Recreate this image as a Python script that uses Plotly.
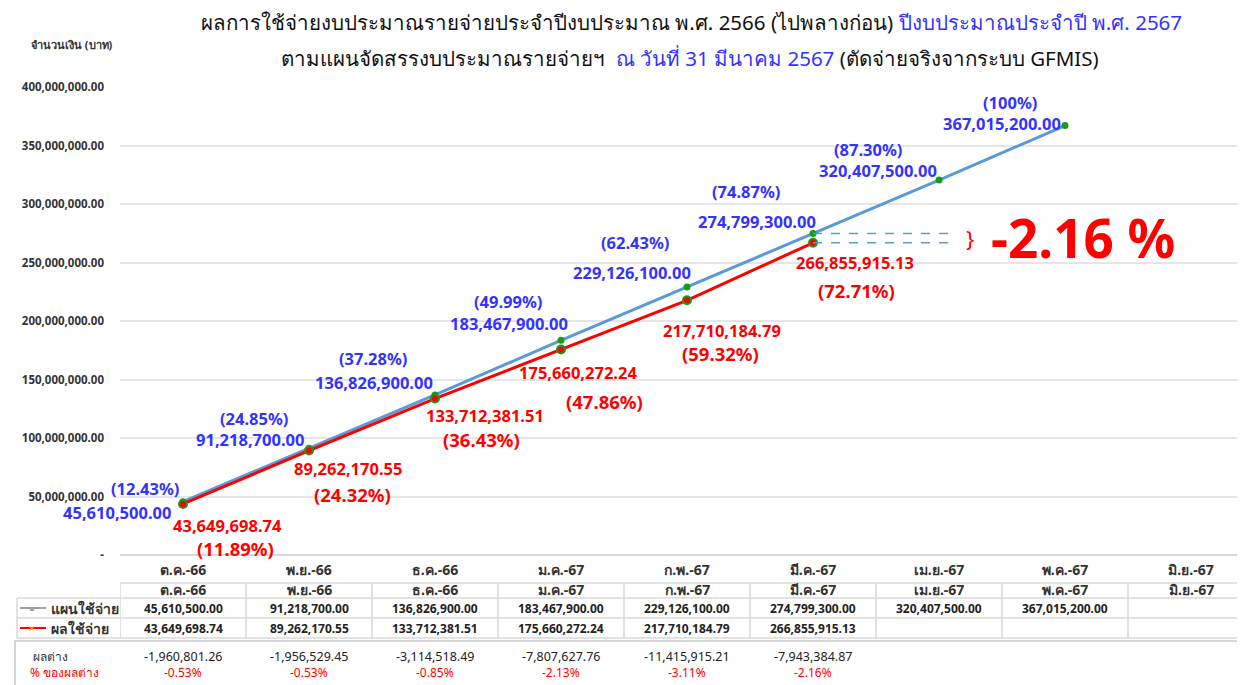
import plotly.graph_objects as go

# data
months = ["ต.ค.-66", "พ.ย.-66", "ธ.ค.-66", "ม.ค.-67", "ก.พ.-67",
          "มี.ค.-67", "เม.ย.-67", "พ.ค.-67", "มิ.ย.-67"]
plan = [45610500.00, 91218700.00, 136826900.00, 183467900.00, 229126100.00,
        274799300.00, 320407500.00, 367015200.00]
actual = [43649698.74, 89262170.55, 133712381.51, 175660272.24,
          217710184.79, 266855915.13]
plan_pct = ["12.43", "24.85", "37.28", "49.99", "62.43", "74.87", "87.30", "100"]
actual_pct = ["11.89", "24.32", "36.43", "47.86", "59.32", "72.71"]
diff = [-1960801.26, -1956529.45, -3114518.49, -7807627.76, -11415915.21,
        -7943384.87]
diff_pct = ["-0.53", "-0.53", "-0.85", "-2.13", "-3.11", "-2.16"]
summary_pct = "-2.16"
y_ticks = [0, 50e6, 100e6, 150e6, 200e6, 250e6, 300e6, 350e6, 400e6]

# page body has an 8px margin, so the figure is drawn 8px smaller
OFF = 8
W, H = 1245 - OFF, 685 - OFF
PL, PT, PR, PB = 120, 87, 1245, 555   # plot box in screen pixels
BLUE = "#3333ff"
RED = "#ff0000"
DARK = "#333333"
FONT = "Noto Sans, sans-serif"


def py(p):  # screen row -> paper y
    return (PB - p) / (PB - PT)


def pxp(p):  # screen col -> paper x
    return (p - PL) / (PR - PL)


fig = go.Figure()
fig.add_trace(go.Scatter(x=months[:len(plan)], y=plan, mode="lines+markers",
                         line=dict(color="#5b9bd5", width=3),
                         marker=dict(color="#1a9a1a", size=7)))
fig.add_trace(go.Scatter(x=months[:len(actual)], y=actual, mode="lines+markers",
                         line=dict(color=RED, width=3),
                         marker=dict(color=RED, size=8,
                                     line=dict(color="#1a9a1a", width=2))))

ann = []


def label(x, y, text, dx, dy, size, color, bold=True, **kw):
    f = dict(size=size, color=color, family=FONT)
    if bold:
        f["weight"] = "bold"
    d = dict(x=x, y=y, text=text, showarrow=False, xshift=dx, yshift=dy,
             xanchor="center", yanchor="middle", font=f)
    d.update(kw)
    ann.append(d)


# label offsets (pixels) for each point
pb_num = [(-66, -11), (-59, 9), (-61, 12), (-52, 17), (-55, 14), (-56, 12), (-61, 10), (-63, 2)]
pb_pct = [(-38, 13), (-55, 30), (-62, 36), (-53, 39), (-52, 44), (-67, 42), (-71, 31), (-55, 23)]
pr_num = [(44, -22), (39, -18), (50, -17), (17, -23), (35, -30), (42, -20)]
pr_pct = [(52, -45), (43, -44), (46, -41), (43, -52), (33, -53), (43, -48)]
for i, v in enumerate(plan):
    label(months[i], v, f"{v:,.2f}", *pb_num[i], 16.5, BLUE)
    label(months[i], v, f"({plan_pct[i]}%)", *pb_pct[i], 16.5, BLUE)
for i, v in enumerate(actual):
    label(months[i], v, f"{v:,.2f}", *pr_num[i], 16.5, RED)
    label(months[i], v, f"({actual_pct[i]}%)", *pr_pct[i], 18.5, RED)

# gap marker at the last actual month
k = len(actual) - 1
x_end = (955 - PL) / 126 - 0.5
shapes = []
for v in (plan[k], actual[k]):
    shapes.append(dict(type="line", xref="x", yref="y", x0=k, x1=x_end, y0=v, y1=v,
                       line=dict(color="#5b9bd5", width=1.5, dash="dash")))
mid = (plan[k] + actual[k]) / 2
label(x_end, mid, "}", 15, 0, 22, RED, bold=False)
label(x_end, mid, f"{summary_pct} %", 34, 1, 53, RED, xanchor="left")

# title and axis caption
label(pxp(691), py(22), "ผลการใช้จ่ายงบประมาณรายจ่ายประจำปีงบประมาณ พ.ศ. 2566 (ไปพลางก่อน) "
      f"<span style='color:{BLUE}'>ปีงบประมาณประจำปี พ.ศ. 2567</span>",
      0, 0, 20.5, "#111111", bold=False, xref="paper", yref="paper")
label(pxp(690), py(58), "ตามแผนจัดสรรงบประมาณรายจ่ายฯ  "
      f"<span style='color:{BLUE}'>ณ วันที่ 31 มีนาคม 2567</span>"
      " (ตัดจ่ายจริงจากระบบ GFMIS)",
      0, 0, 20.5, "#111111", bold=False, xref="paper", yref="paper")
label(pxp(72), py(44), "จำนวนเงิน (บาท)", 0, 0, 11, DARK,
      xref="paper", yref="paper")

# data table under the chart
for m in months:
    label(m, py(589), m, 0, 0, 14, DARK, yref="paper")
for i, v in enumerate(plan):
    label(months[i], py(608), f"{v:,.2f}", 0, 0, 12, "#222222", yref="paper")
for i, v in enumerate(actual):
    label(months[i], py(628), f"{v:,.2f}", 0, 0, 12, "#222222", yref="paper")
for i, v in enumerate(diff):
    label(months[i], py(656), f"{v:,.2f}", 0, 0, 12.5, "#222222", bold=False,
          yref="paper")
    label(months[i], py(672), f"{diff_pct[i]}%", 0, 0, 12, RED, bold=False,
          yref="paper")

# row labels
label(pxp(49), py(608), "แผนใช้จ่าย", 0, 0, 14, DARK, xref="paper", yref="paper",
      xanchor="left")
label(pxp(49), py(628), "ผลใช้จ่าย", 0, 0, 14, DARK, xref="paper", yref="paper",
      xanchor="left")
label(pxp(31), py(656), "ผลต่าง", 0, 0, 12, DARK, bold=False, xref="paper",
      yref="paper", xanchor="left")
label(pxp(28), py(672), "% ของผลต่าง", 0, 0, 12, RED, bold=False, xref="paper",
      yref="paper", xanchor="left")
label(pxp(32), py(607), "▲", 0, 0, 8, "#a0a0a0", bold=False, xref="paper", yref="paper")
label(pxp(32), py(628), "✕", 0, 0, 9, "#ffb000", bold=False, xref="paper", yref="paper")
shapes.append(dict(type="line", xref="paper", yref="paper", x0=pxp(20), x1=pxp(46),
                   y0=py(608), y1=py(608), line=dict(color="#a0a0a0", width=2)))
shapes.append(dict(type="line", xref="paper", yref="paper", x0=pxp(20), x1=pxp(46),
                   y0=py(628), y1=py(628), line=dict(color=RED, width=2)))

grid = dict(color="#d9d9d9", width=1.5)
for yy in (583, 598, 618, 638):
    x0 = pxp(120) if yy == 583 else pxp(17)
    shapes.append(dict(type="line", xref="paper", yref="paper", x0=x0, x1=1.0,
                       y0=py(yy), y1=py(yy), line=grid))
shapes.append(dict(type="line", xref="paper", yref="paper", x0=pxp(17), x1=pxp(17),
                   y0=py(598), y1=py(638), line=grid))
for i in range(len(months)):
    shapes.append(dict(type="line", xref="x", yref="paper", x0=i - 0.5, x1=i - 0.5,
                       y0=py(583), y1=py(638), line=grid))
shapes.append(dict(type="rect", xref="paper", yref="paper", x0=pxp(15), x1=1.2,
                   y0=py(641), y1=py(700), line=dict(color="#c8c8c8", width=1.5)))

fig.update_layout(
    width=W, height=H,
    margin=dict(l=PL - OFF, r=0, t=PT - OFF, b=H - (PB - OFF)),
    plot_bgcolor="white", paper_bgcolor="white", showlegend=False,
    annotations=ann, shapes=shapes,
    xaxis=dict(type="category", categoryorder="array", categoryarray=months,
               range=[-0.5, -0.5 + (PR - PL) / 126],
               tickfont=dict(size=14, color=DARK, family=FONT, weight="bold"),
               showgrid=False, showline=False, ticks="", ticklabelstandoff=5),
    yaxis=dict(range=[0, 400e6], tickvals=y_ticks,
               ticktext=["-" if v == 0 else f"{v:,.2f}" for v in y_ticks],
               tickfont=dict(size=11.5, color=DARK, family=FONT, weight="bold"),
               gridcolor="#e6e6e6", gridwidth=1.5, zeroline=True,
               zerolinecolor="#d9d9d9", zerolinewidth=1.5, ticklabelstandoff=15),
)

fig.write_html("out.html")
